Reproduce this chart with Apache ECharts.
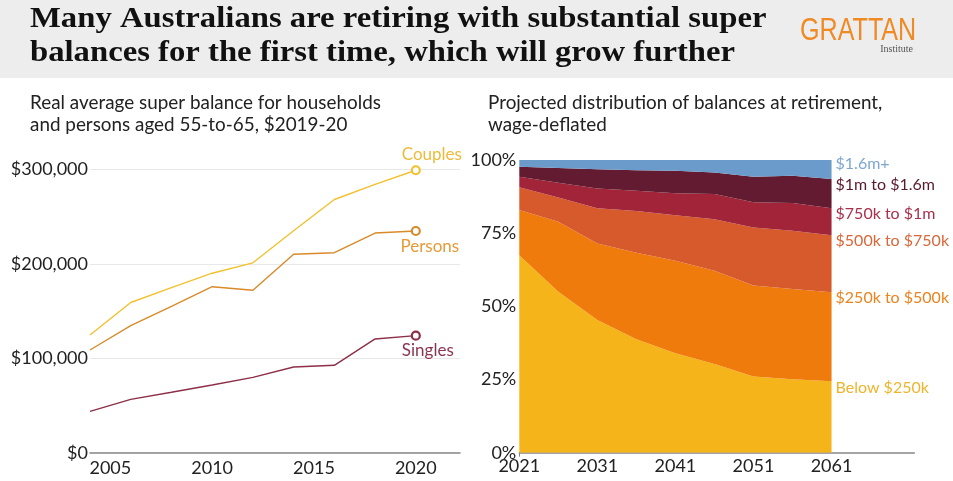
<!DOCTYPE html>
<html><head><meta charset="utf-8">
<script src="https://cdn.jsdelivr.net/npm/echarts@6/dist/echarts.min.js"></script>
<style>
html,body{margin:0;padding:0;background:#fff;}
#c{width:953px;height:481px;}
</style></head>
<body><div id="c"></div>
<script>
// Left chart data
const years = [2004, 2006, 2008, 2010, 2012, 2014, 2016, 2018, 2020];
const couples = [124600, 159000, 174700, 190000, 201000, 235000, 268000, 284000, 299000];
const persons = [108700, 134500, 155000, 175700, 172000, 210000, 211700, 232500, 234700];
const singles = [43800, 56500, 64000, 71700, 79800, 90700, 92500, 120400, 123900];
const leftXTicks = [2005, 2010, 2015, 2020];

// Right chart data
const projYears = [2021, 2026, 2031, 2036, 2041, 2046, 2051, 2056, 2061];
const below250k = [67.5, 55.0, 45.3, 38.8, 34.0, 30.3, 26.0, 25.1, 24.4];
const k250to500 = [15.4, 23.9, 26.2, 29.5, 31.6, 31.9, 31.1, 30.8, 30.4];
const k500to750 = [7.8, 8.3, 12.0, 14.3, 15.5, 17.6, 19.8, 19.9, 19.5];
const k750to1m = [3.6, 5.0, 6.8, 6.9, 7.5, 8.6, 8.7, 9.5, 9.2];
const m1to1_6 = [3.4, 5.1, 6.5, 7.0, 7.7, 7.3, 8.7, 9.3, 10.0];
const m1_6plus = [2.3, 2.7, 3.2, 3.5, 3.7, 4.3, 5.7, 5.4, 6.5];
const rightXTicks = [2021, 2031, 2041, 2051, 2061];
const bandNames = ['Below $250k', '$250k to $500k', '$500k to $750k', '$750k to $1m', '$1m to $1.6m', '$1.6m+'];

const FONT = 'Lato';
const chart = echarts.init(document.getElementById('c'));

function lineSeries(name, vals, color, labelColor, labelPos, labelOffset) {
  const last = vals.length - 1;
  return {
    type: 'line', name: name, xAxisIndex: 0, yAxisIndex: 0,
    data: vals.map((v, i) => {
      const item = { value: [years[i], v] };
      if (i === last) {
        item.label = { show: true, formatter: name, position: labelPos, offset: labelOffset,
          color: labelColor, fontFamily: FONT, fontSize: 17 };
      }
      return item;
    }),
    showSymbol: true,
    symbol: (val, p) => p.dataIndex === last ? 'circle' : 'none',
    symbolSize: 8,
    itemStyle: { color: '#fff', borderColor: color, borderWidth: 2.2 },
    lineStyle: { color: color, width: 1.4 },
    silent: true, animation: false, z: 3
  };
}

const bandColors = ['#F4B41A', '#EE7B0C', '#D65A2C', '#A12439', '#621B30', '#6B9BCB'];
const bandLabelColors = ['#EDB52E', '#EA8420', '#D8673A', '#A8304A', '#5A1A2C', '#7EA7D0'];
const bandData = [below250k, k250to500, k500to750, k750to1m, m1to1_6, m1_6plus];
const bandLabelOffset = [[0, 7], [0, 6], [0, 6], [0, 6], [0, 6], [0, 4]];

// value first, year second: stacking is done on the share dimension
const areaSeries = bandData.map((vals, k) => ({
  type: 'line', name: bandNames[k], xAxisIndex: 1, yAxisIndex: 1, stack: 'dist',
  data: vals.map((v, i) => [v, projYears[i]]),
  encode: { x: 1, y: 0 },
  showSymbol: false, symbol: 'none',
  lineStyle: { width: 0 },
  areaStyle: { color: bandColors[k], opacity: 1 },
  itemStyle: { color: bandColors[k] },
  endLabel: { show: true, formatter: bandNames[k], color: bandLabelColors[k], fontFamily: FONT,
    fontSize: 16, distance: 4, offset: bandLabelOffset[k] },
  silent: true, animation: false
}));

function headText(x, y, text, font, fill, sx, align, lh) {
  const st = { x: 0, y: 0, text: text, font: font, fill: fill, align: align || 'left', verticalAlign: 'top' };
  if (lh) st.lineHeight = lh;
  return { type: 'text', x: x, y: y, scaleX: sx || 1, silent: true, style: st };
}

const option = {
  backgroundColor: '#fff',
  animation: false,
  graphic: [
    { type: 'rect', shape: { x: 0, y: 0, width: 953, height: 78 }, style: { fill: '#EDEDED' }, silent: true },
    headText(30, 4, 'Many Australians are retiring with substantial super', 'bold 30px "Liberation Serif"', '#111', 1.09),
    headText(30, 38, 'balances for the first time, which will grow further', 'bold 30px "Liberation Serif"', '#111', 1.09),
    headText(800, 16, 'GRATTAN', '31px "Liberation Sans"', '#F08A24', 0.81),
    headText(913, 44, 'Institute', '10px "Liberation Serif"', '#555', 1, 'right'),
    headText(30, 92, 'Real average super balance for households\nand persons aged 55-to-65, $2019-20', '18.5px ' + FONT, '#222', 1.02, 'left', 22),
    headText(488, 92, 'Projected distribution of balances at retirement,\nwage-deflated', '18.5px ' + FONT, '#222', 1.02, 'left', 22)
  ],
  grid: [
    { left: 90, top: 169.3, width: 370, height: 283.4, containLabel: false },
    { left: 519.3, top: 160, width: 395, height: 292.7, containLabel: false }
  ],
  xAxis: [
    { type: 'value', gridIndex: 0, min: 2004, max: 2022.17,
      axisLine: { show: true, lineStyle: { color: '#888', width: 1.5 } },
      axisTick: { show: false }, splitLine: { show: false },
      axisLabel: { customValues: leftXTicks, color: '#222', fontFamily: FONT, fontSize: 18, margin: 6, formatter: v => String(v) } },
    { type: 'value', gridIndex: 1, min: 2021, max: 2071.6,
      axisLine: { show: true, lineStyle: { color: '#888', width: 1.5 } },
      axisTick: { show: true, customValues: [2021], length: 4, lineStyle: { color: '#888' } }, splitLine: { show: false },
      axisLabel: { customValues: rightXTicks, color: '#222', fontFamily: FONT, fontSize: 18, margin: 4, formatter: v => String(v) } }
  ],
  yAxis: [
    { type: 'value', gridIndex: 0, min: 0, max: 300000, interval: 100000,
      axisLine: { show: false }, axisTick: { show: false },
      splitLine: { show: true, lineStyle: { color: '#E8E8E8', width: 1 } },
      axisLabel: { color: '#222', fontFamily: FONT, fontSize: 18, margin: 2, verticalAlign: 'middle', padding: [0, 0, 8, 0],
        formatter: v => '$' + v.toLocaleString('en-US') } },
    { type: 'value', gridIndex: 1, min: 0, max: 100, interval: 25,
      axisLine: { show: false }, axisTick: { show: false }, splitLine: { show: false },
      axisLabel: { color: '#222', fontFamily: FONT, fontSize: 18, margin: 3, verticalAlign: 'middle',
        formatter: v => v + '%' } }
  ],
  series: [
    lineSeries('Couples', couples, '#F2C12E', '#EDBB3A', 'top', [16, 3]),
    lineSeries('Persons', persons, '#D98A2A', '#E89A38', 'bottom', [14, -3]),
    lineSeries('Singles', singles, '#8C2F47', '#8C3550', 'bottom', [12, -4])
  ].concat(areaSeries)
};
chart.setOption(option);
</script>
</body></html>
